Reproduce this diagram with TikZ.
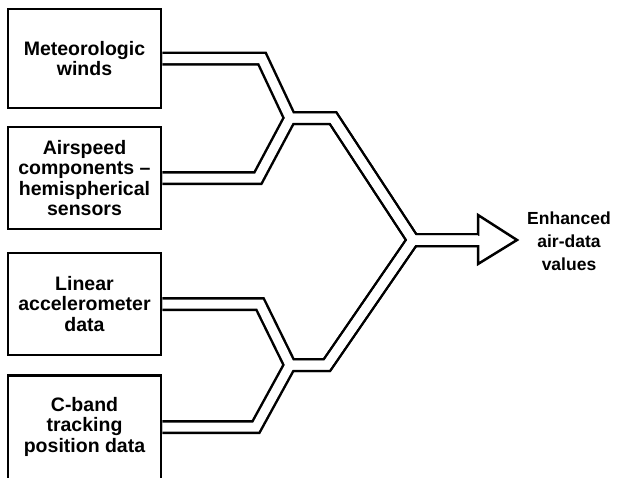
\documentclass[tikz,border=0pt]{standalone}
\usepackage{fontspec}
\setmainfont{Liberation Sans}
\usepackage{tikz}

\newcommand{\pipes}[1]{%
  \draw[#1] (met.east) -- (262,58.5) -- (j1) -- (333,118) -- (j3) -- (tip);
  \draw[#1] (air.east) -- (258,178) -- (j1) -- (333,118) -- (j3) -- (tip);
  \draw[#1] (lin.east) -- (260,304) -- (j2) -- (327,365) -- (j3) -- (tip);
  \draw[#1] ([yshift=8pt]cband.east) -- (256,427) -- (j2) -- (327,365) -- (j3) -- (tip);
}

\begin{document}
\begin{tikzpicture}[x=1pt, y=-1pt,
            source/.style = {shape=rectangle, draw, line width=2.8pt,
                             minimum width=153pt, align=center, inner sep=0pt,
                             font=\bfseries\fontsize{19.5}{20.5}\selectfont},
            outer pipe/.style = {black, line width=14pt, miter limit=10},
            inner pipe/.style = {white, line width=9pt, miter limit=10}]
    \useasboundingbox (0,0) rectangle (621,477);
    % input boxes
    \node[source, minimum height=99pt] (met) at (84.5,58.5) {Meteorologic\\winds};
    \node[source, minimum height=102pt] (air) at (84.5,178) {Airspeed\\components –\\hemispherical\\sensors};
    \node[source, minimum height=102pt] (lin) at (84.5,304) {Linear\\accelerometer\\data};
    % runs off the bottom edge
    \node[source, minimum height=119pt, text depth=21pt] (cband) at (84.5,435) {C-band\\tracking\\position data};
    % junctions
    \coordinate (j1) at (290,118);
    \coordinate (j2) at (290,365);
    \coordinate (j3) at (413,240);
    \coordinate (tip) at (478,240);
    % double lines
    \pipes{outer pipe}
    \draw[line width=2.5pt, fill=white] (tip) ++(0,-25) -- ++(39,25) -- ++(-39,24) -- cycle;
    \pipes{inner pipe}
    \draw[inner pipe] (j3) -- ([xshift=2pt]tip);
    \node[align=center, font=\bfseries\fontsize{17.5}{23}\selectfont] (out) at (569,241) {Enhanced\\air-data\\values};
\end{tikzpicture}
\end{document}
